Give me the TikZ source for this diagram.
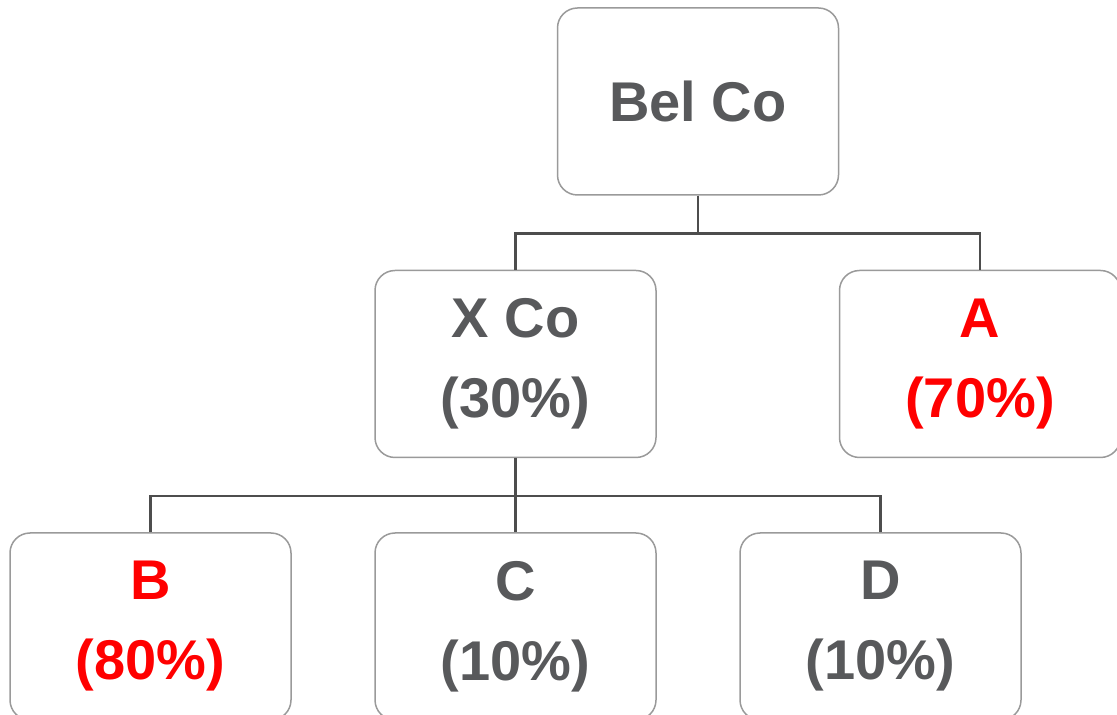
\documentclass[tikz,border=0pt]{standalone}
\usepackage{fontspec}
\setmainfont{Liberation Sans}
\usetikzlibrary{positioning}
\definecolor{txtgray}{HTML}{58595B}
\definecolor{boxgray}{HTML}{9A9A9A}
\definecolor{linegray}{HTML}{4D4D4D}
\definecolor{ownred}{HTML}{FF0000}
\tikzset{
	company/.style={draw=boxgray, line width=1.5pt, rounded corners=20pt, fill=white,
		minimum width=281pt, minimum height=187pt, inner sep=0pt, align=center,
		text=txtgray, font=\fontsize{56}{80}\selectfont\bfseries},
	minority/.style={company, text=ownred},
	link/.style={draw=linegray, line width=2.5pt},
}
\begin{document}
\begin{tikzpicture}[x=1pt, y=1pt]
		%%%%% START %%%%%
		\useasboundingbox (0, 0) rectangle (1117, 715);
		
		\node[company] (belco) at (698, 613.5) {Bel Co};
		
		\node[company] (xco) at (515.5, 351) {X Co\\(30\%)};
		\node[minority] (a) at (980, 351) {A\\(70\%)};
		
		\node[minority] (b) at (150.5, 88.5) {B\\(80\%)};
		\node[company] (c) at (515.5, 88.5) {C\\(10\%)};
		\node[company] (d) at (880.5, 88.5) {D\\(10\%)};
		
		\draw[link] (belco.south) -- ++(0, -38) -| (xco.north);
		\draw[link] (belco.south) -- ++(0, -38) -| (a.north);
		
		\draw[link] (xco.south) -- ++(0, -38) -| (b.north);
		\draw[link] (xco.south) -- (c.north);
		\draw[link] (xco.south) -- ++(0, -38) -| (d.north);
		
		%%%%% END %%%%%
	\end{tikzpicture}
\end{document}
